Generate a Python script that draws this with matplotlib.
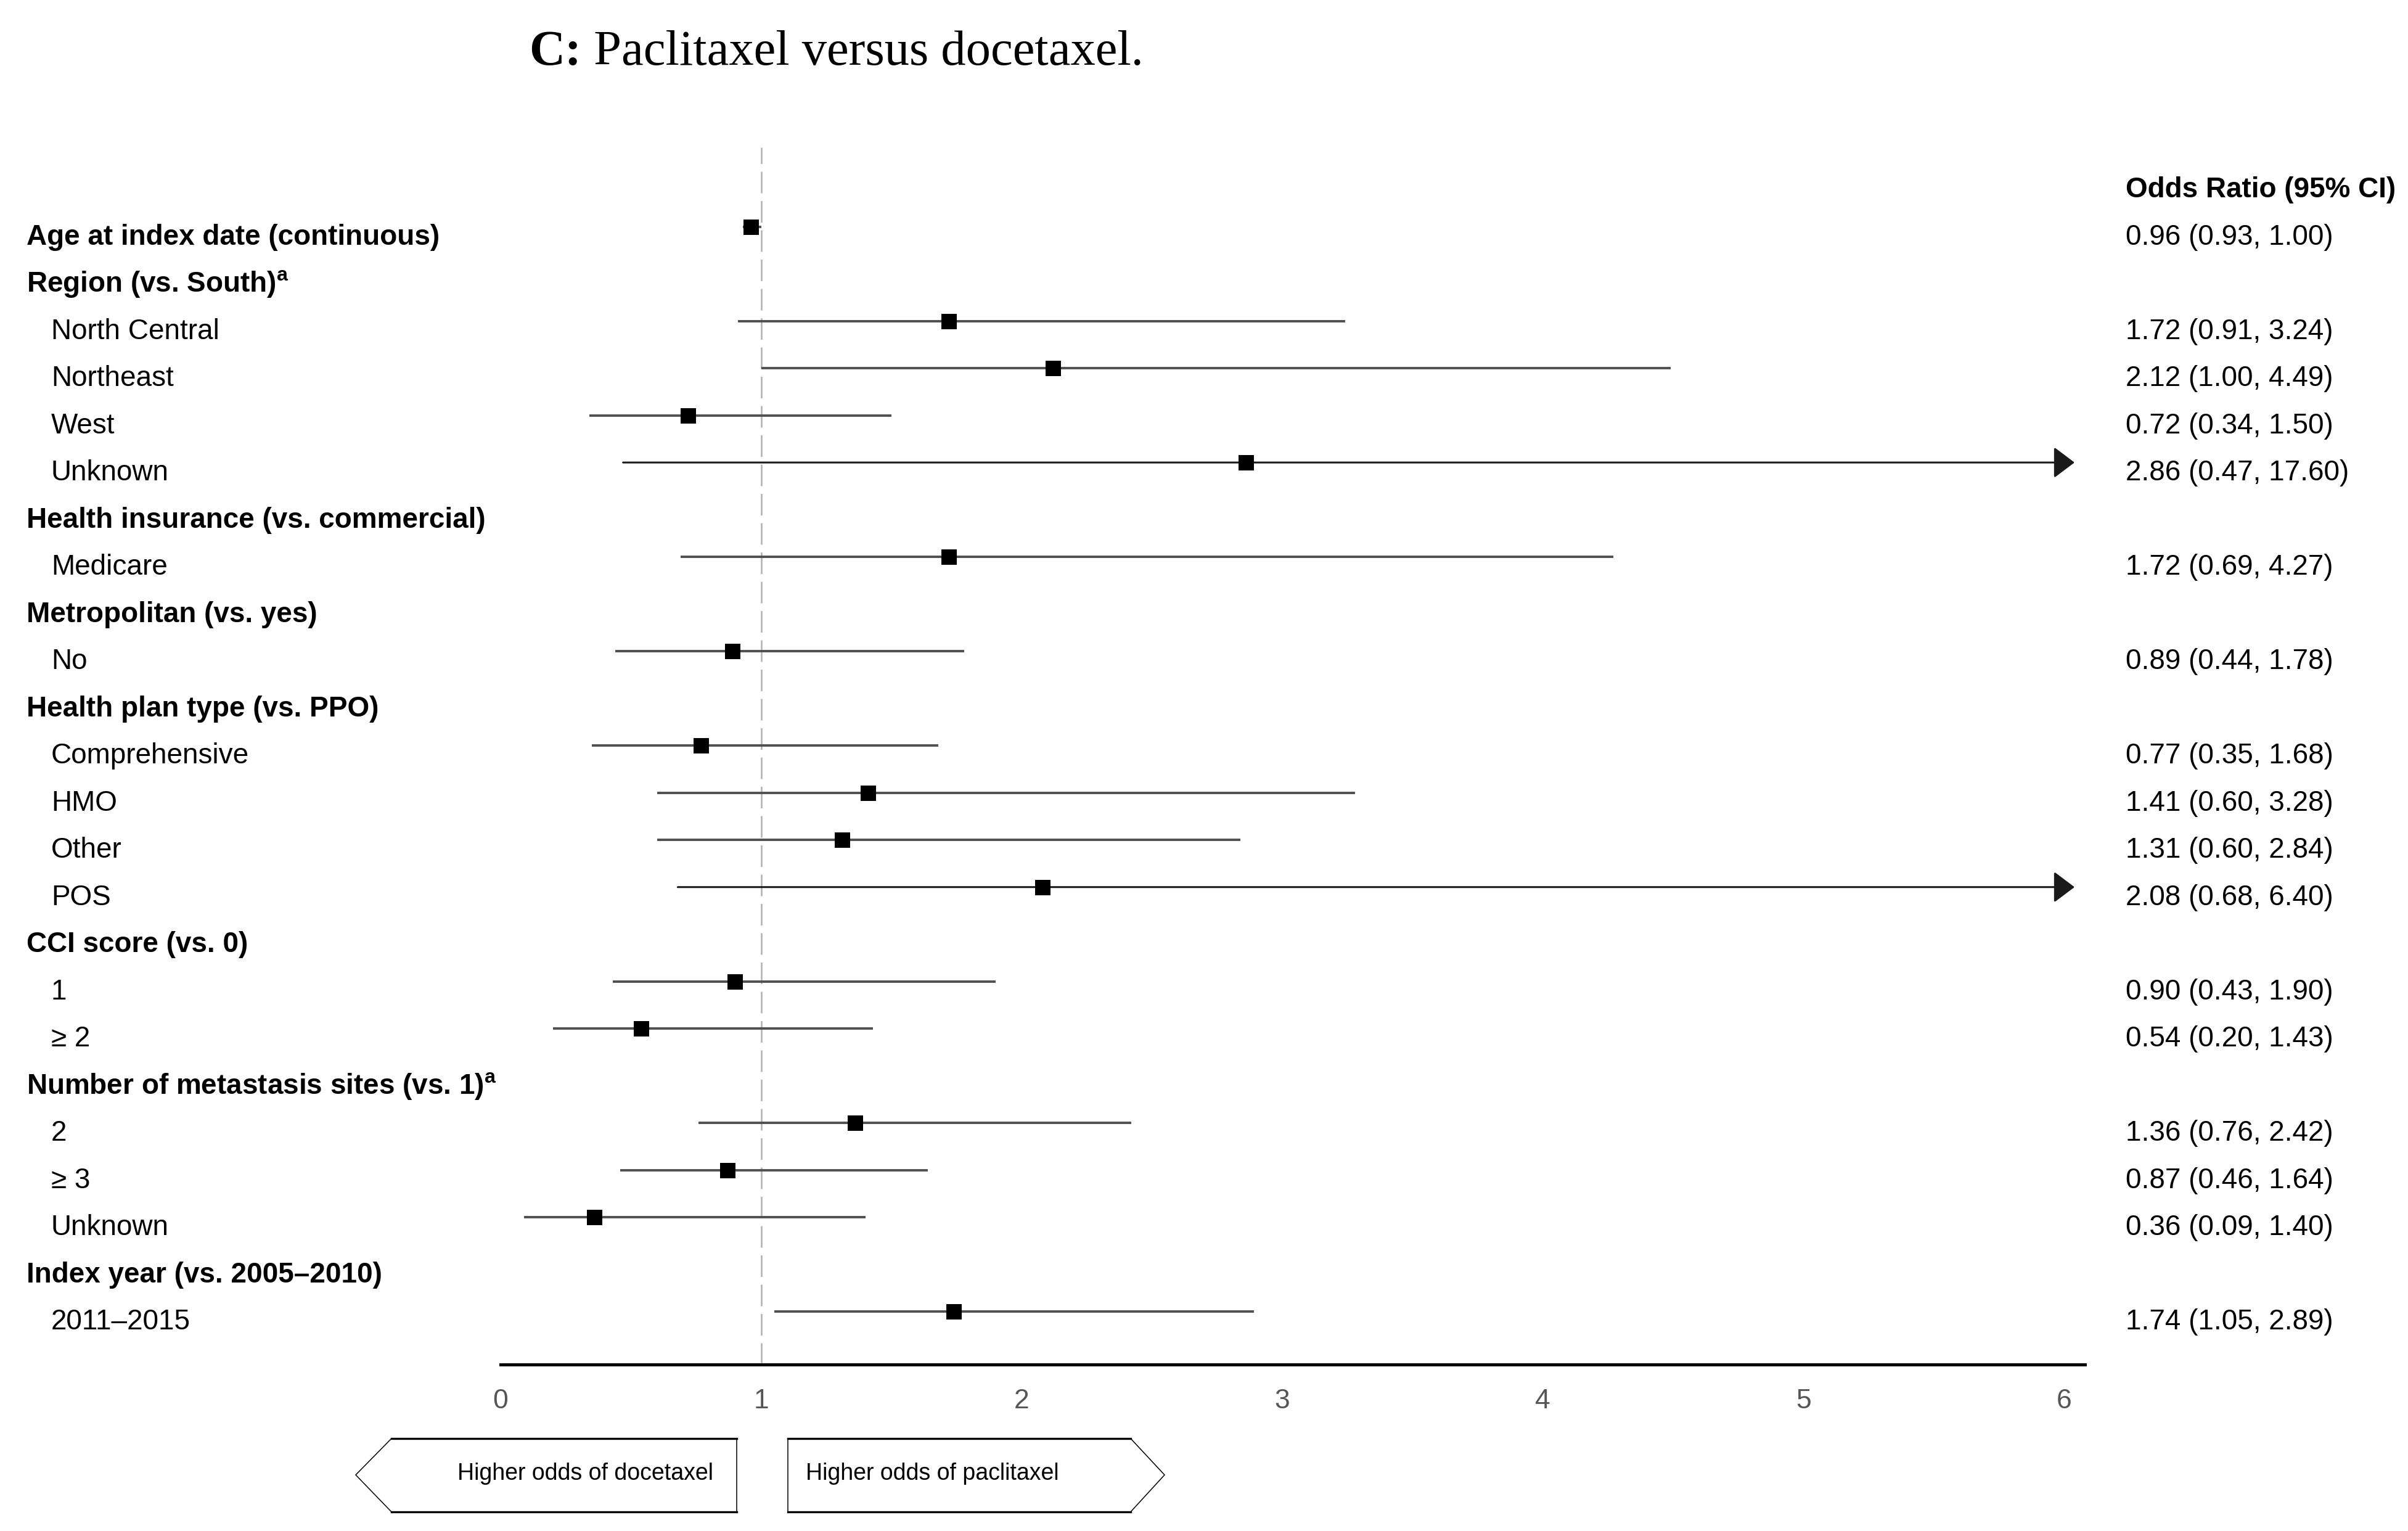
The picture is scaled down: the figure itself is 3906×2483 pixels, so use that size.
import matplotlib
matplotlib.use("Agg")
import matplotlib.pyplot as plt
import matplotlib.transforms as mtransforms
from matplotlib.patches import Polygon
from matplotlib.lines import Line2D

plt.rcParams['font.family'] = ['Liberation Sans', 'DejaVu Sans']
plt.rcParams['mathtext.fontset'] = 'custom'
plt.rcParams['mathtext.rm'] = 'Liberation Sans'
plt.rcParams['mathtext.bf'] = 'Liberation Sans:bold'

# ---------------- data ----------------
labels = [
    "Age at index date (continuous)",
    "Region (vs. South)$^{\\mathbf{a}}$",
    "North Central", "Northeast", "West", "Unknown",
    "Health insurance (vs. commercial)",
    "Medicare",
    "Metropolitan (vs. yes)",
    "No",
    "Health plan type (vs. PPO)",
    "Comprehensive", "HMO", "Other", "POS",
    "CCI score (vs. 0)",
    "1", "\u2265 2",
    "Number of metastasis sites (vs. 1)$^{\\mathbf{a}}$",
    "2", "\u2265 3", "Unknown",
    "Index year (vs. 2005\u20132010)",
    "2011\u20132015",
]
is_header = [True, True, False, False, False, False, True, False, True, False,
             True, False, False, False, False, True, False, False, True,
             False, False, False, True, False]
odds = [0.96, None, 1.72, 2.12, 0.72, 2.86, None, 1.72, None, 0.89,
        None, 0.77, 1.41, 1.31, 2.08, None, 0.90, 0.54, None,
        1.36, 0.87, 0.36, None, 1.74]
ci_low = [0.93, None, 0.91, 1.00, 0.34, 0.47, None, 0.69, None, 0.44,
          None, 0.35, 0.60, 0.60, 0.68, None, 0.43, 0.20, None,
          0.76, 0.46, 0.09, None, 1.05]
ci_high = [1.00, None, 3.24, 4.49, 1.50, 17.60, None, 4.27, None, 1.78,
           None, 1.68, 3.28, 2.84, 6.40, None, 1.90, 1.43, None,
           2.42, 1.64, 1.40, None, 2.89]
xticks = [0, 1, 2, 3, 4, 5, 6]
title_bold = "C:"
title_rest = " Paclitaxel versus docetaxel."
col_header = "Odds Ratio (95% CI)"
left_note = "Higher odds of docetaxel"
right_note = "Higher odds of paclitaxel"

# ---------------- figure ----------------
W, H = 3906, 2483
fig = plt.figure(figsize=(W / 100, H / 100), dpi=100)
fig.patch.set_facecolor('white')

def fx(px):
    return px / W

def fy(py):
    return 1 - py / H

ax_left, ax_right = 812, 3382
ax_top, ax_bot = 239, 2213
ax = fig.add_axes([fx(ax_left), fy(ax_bot), (ax_right - ax_left) / W, (ax_bot - ax_top) / H])
XMAX = 6.08
ax.set_xlim(0, XMAX)
ax.set_ylim(25.12, -0.68)
ax.set_facecolor('none')

for s in ['top', 'right', 'left']:
    ax.spines[s].set_visible(False)
ax.spines['bottom'].set_linewidth(3.6)
ax.spines['bottom'].set_color('black')
ax.set_yticks([])
ax.set_xticks(xticks)
ax.set_xticklabels([str(t) for t in xticks])
ax.tick_params(axis='x', length=0, pad=28, labelsize=32, labelcolor='#555555')

# reference line
ax.axvline(1, color='#b0b0b0', lw=1.8, ls=(0, (14, 5)), zorder=1)

ci_color = '#505050'
ARROW_TIP = 6.04
for i, (o, lo, hi) in enumerate(zip(odds, ci_low, ci_high)):
    r = i + 1
    if o is None:
        continue
    if hi > XMAX:
        ax.annotate("", xy=(ARROW_TIP, r), xytext=(lo, r),
                    arrowprops=dict(arrowstyle="-|>,head_length=21,head_width=15.8",
                                    mutation_scale=1, color='#1a1a1a', lw=2.2,
                                    shrinkA=0, shrinkB=0), zorder=2)
    else:
        ax.plot([lo, hi], [r, r], color=ci_color, lw=2.8, solid_capstyle='butt', zorder=2)
    ax.plot([o], [r], marker='s', ms=18, color='black', mec='black', mew=0, zorder=3)

# text columns
trans = mtransforms.blended_transform_factory(fig.transFigure, ax.transData)
BASE = 0.38
for i, lab in enumerate(labels):
    r = i + 1
    if is_header[i]:
        ax.text(fx(43), r + BASE, lab, transform=trans, fontsize=33, fontweight='bold',
                va='baseline', ha='left', clip_on=False)
    else:
        ax.text(fx(83), r + BASE, lab, transform=trans, fontsize=33,
                va='baseline', ha='left', clip_on=False)
    if odds[i] is not None:
        ax.text(fx(3448), r + BASE, f"{odds[i]:.2f} ({ci_low[i]:.2f}, {ci_high[i]:.2f})",
                transform=trans, fontsize=33, va='baseline', ha='left', clip_on=False)

ax.text(fx(3448), 0 + BASE, col_header, transform=trans, fontsize=33, fontweight='bold',
        va='baseline', ha='left', clip_on=False)

# title
t1 = fig.text(fx(858), fy(86), title_bold, fontsize=58, fontweight='bold',
              family=['Liberation Serif', 'DejaVu Serif'], va='center', ha='left')
fig.canvas.draw()
bb = t1.get_window_extent()
fig.text(bb.x1 / W, fy(86), title_rest, fontsize=58,
         family=['Liberation Serif', 'DejaVu Serif'], va='center', ha='left')

# bottom direction boxes
left_poly = [(577, 2392), (635, 2333), (1195, 2333), (1195, 2452), (635, 2452)]
right_poly = [(1278, 2333), (1834, 2333), (1889, 2392), (1834, 2452), (1278, 2452)]
for poly in (left_poly, right_poly):
    fig.patches.append(Polygon([(fx(x), fy(y)) for x, y in poly], closed=True,
                               transform=fig.transFigure, fill=False,
                               edgecolor='black', lw=1.1))
for (xa, xb) in ((635, 1195), (1278, 1834)):
    for yy in (2333, 2452):
        fig.lines.append(Line2D([fx(xa), fx(xb)], [fy(yy), fy(yy)],
                                transform=fig.transFigure, color='black', lw=2.4))
fig.text(fx(1157), fy(2390), left_note, fontsize=27, ha='right', va='center')
fig.text(fx(1307), fy(2390), right_note, fontsize=27, ha='left', va='center')

fig.savefig("out.png", dpi=100, facecolor='white')
